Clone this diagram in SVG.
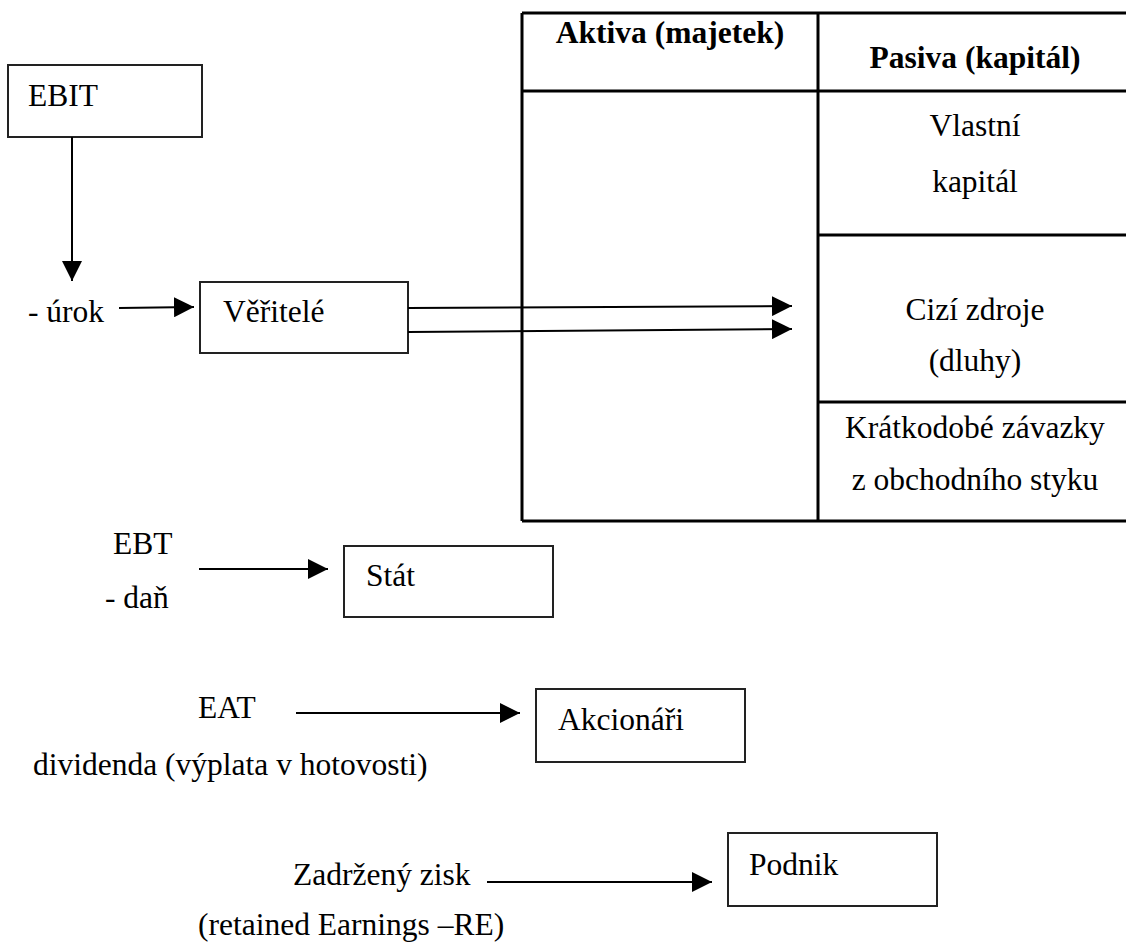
<svg xmlns="http://www.w3.org/2000/svg" width="1126" height="944" viewBox="0 0 1126 944">
<defs>
<marker id="arr" markerUnits="userSpaceOnUse" markerWidth="20" markerHeight="20" refX="20" refY="10" orient="auto">
<path d="M0,0 L20,10 L0,20 Z" fill="#000"/>
</marker>
</defs>
<style>
text{font-family:"Liberation Serif","Times New Roman",serif;font-size:31.5px;fill:#000}
.b{font-weight:bold}
.c{text-anchor:middle}
.box{fill:#fff;stroke:#222;stroke-width:2}
.tbl{stroke:#000;stroke-width:3;fill:none}
.con{stroke:#000;stroke-width:2;fill:none;marker-end:url(#arr)}
</style>
<rect width="1126" height="944" fill="#fff"/>
<g id="table">
<path class="tbl" d="M522,13 H1128 M522,13 V521 M522,521 H1128 M522,91 H1128 M818,13 V521 M818,235 H1128 M818,402 H1128"/>
<text class="b c" x="670" y="43">Aktiva (majetek)</text>
<text class="b c" x="975" y="68">Pasiva (kapitál)</text>
<text class="c" x="975" y="136">Vlastní</text>
<text class="c" x="975" y="192">kapitál</text>
<text class="c" x="975" y="320">Cizí zdroje</text>
<text class="c" x="975" y="371">(dluhy)</text>
<text class="c" x="975" y="438">Krátkodobé závazky</text>
<text class="c" x="975" y="490">z obchodního styku</text>
</g>
<g id="ebit">
<rect class="box" x="8" y="65" width="194" height="72"/>
<text x="28" y="106">EBIT</text>
</g>
<g id="veritele">
<rect class="box" x="200" y="282" width="208" height="71"/>
<text x="223" y="322">Věřitelé</text>
</g>
<g id="stat">
<rect class="box" x="344" y="546" width="209" height="71"/>
<text x="366" y="586">Stát</text>
</g>
<g id="akcionari">
<rect class="box" x="536" y="689" width="209" height="73"/>
<text x="558" y="730">Akcionáři</text>
</g>
<g id="podnik">
<rect class="box" x="728" y="833" width="209" height="73"/>
<text x="749" y="875">Podnik</text>
</g>
<g id="labels">
<text x="28" y="322">- úrok</text>
<text x="113" y="554">EBT</text>
<text x="105" y="608">- daň</text>
<text x="198" y="718">EAT</text>
<text x="33" y="775">dividenda (výplata v hotovosti)</text>
<text x="293" y="885">Zadržený zisk</text>
<text x="198" y="935">(retained Earnings –RE)</text>
</g>
<g id="connectors">
<path class="con" d="M72,137 L72,281"/>
<path class="con" d="M119,308 L194,307"/>
<path class="con" d="M408,308 L792,306"/>
<path class="con" d="M408,332 L792,329"/>
<path class="con" d="M199,569 L328,569"/>
<path class="con" d="M296,713 L520,713"/>
<path class="con" d="M487,882 L712,882"/>
</g>
</svg>
